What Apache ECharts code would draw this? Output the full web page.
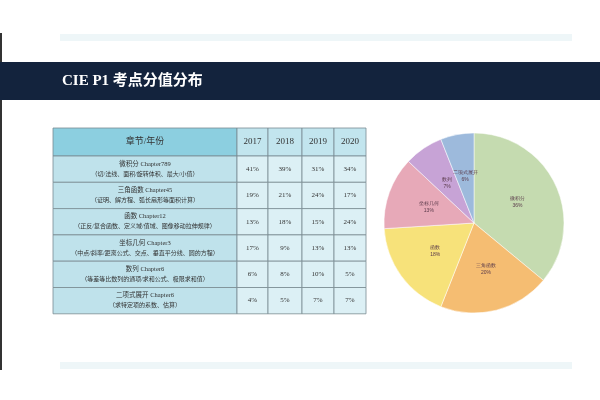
<!DOCTYPE html>
<html><head><meta charset="utf-8">
<script src="https://cdn.jsdelivr.net/npm/echarts@6/dist/echarts.min.js"></script>
<style>html,body{margin:0;padding:0;background:#fff}#main{width:600px;height:400px}</style>
</head><body><div id="main"></div>
<script>
// 表格数据
var chapters = ['微积分 Chapter789', '三角函数 Chapter45', '函数 Chapter12', '坐标几何 Chapter3', '数列 Chapter6', '二项式展开 Chapter6'];
var notes = ['（切/法线、面积/旋转体积、最大/小值）', '（证明、解方程、弧长扇形等面积计算）', '（正反/复合函数、定义域/值域、图像移动拉伸规律）',
  '（中点/斜率/距离公式、交点、垂直平分线、圆的方程）', '（等差等比数列的通项/求和公式、极限求和值）', '（求特定项的系数、估算）'];
var years = ['2017', '2018', '2019', '2020'];
var p2017 = ['41%', '19%', '13%', '17%', '6%', '4%'];
var p2018 = ['39%', '21%', '18%', '9%', '8%', '5%'];
var p2019 = ['31%', '24%', '15%', '13%', '10%', '7%'];
var p2020 = ['34%', '17%', '24%', '13%', '5%', '7%'];
// 饼图数据
var pieNames = ['微积分', '三角函数', '函数', '坐标几何', '数列', '二项式展开'];
var pieValues = [36, 20, 18, 13, 7, 6];
var pieColors = ['#c5dbb0', '#f5bd72', '#f7e27a', '#e7a9b8', '#c7a3d6', '#9dbadc'];

var serif = '"Liberation Serif", "Noto Sans CJK SC"';
var myChart = echarts.init(document.getElementById('main'));

var g = [];
g.push({type: 'rect', shape: {x: 0, y: 33, width: 2, height: 337}, style: {fill: '#333'}});
g.push({type: 'rect', shape: {x: 60, y: 34, width: 512, height: 7}, style: {fill: '#eef6f8'}});
g.push({type: 'rect', shape: {x: 0, y: 62, width: 600, height: 38}, style: {fill: '#13233d'}});
g.push({type: 'text', x: 62, y: 81, style: {text: 'CIE P1 考点分值分布', fill: '#fff', font: 'bold 15px ' + serif, verticalAlign: 'middle'}});
g.push({type: 'rect', shape: {x: 60, y: 362, width: 512, height: 7}, style: {fill: '#eef6f8'}});

var colX = [53, 237, 268, 302, 334, 366];
var rowY = [128, 156];
for (var i = 0; i < 6; i++) rowY.push(156 + (i + 1) * 26.3);
var cols = [p2017, p2018, p2019, p2020];
for (var r = 0; r < 7; r++) {
  for (var c = 0; c < 5; c++) {
    var fill = r === 0 ? (c === 0 ? '#8ccfe0' : '#c2e5ee') : (c === 0 ? '#bfe2eb' : '#dcf0f5');
    var x0 = colX[c], y0 = rowY[r], w = colX[c + 1] - x0, h = rowY[r + 1] - y0;
    g.push({type: 'rect', shape: {x: x0, y: y0, width: w, height: h}, style: {fill: fill, stroke: '#7a8c92', lineWidth: 0.8}});
    var cx = x0 + w / 2, cy = y0 + h / 2;
    if (r === 0) {
      g.push({type: 'text', x: cx, y: cy, style: {text: c === 0 ? '章节/年份' : years[c - 1], fill: '#333', font: '9px ' + serif, align: 'center', verticalAlign: 'middle'}});
    } else if (c === 0) {
      g.push({type: 'text', x: cx, y: cy - 5, style: {text: chapters[r - 1], fill: '#333', font: '6.5px ' + serif, align: 'center', verticalAlign: 'middle'}});
      g.push({type: 'text', x: cx, y: cy + 5, style: {text: notes[r - 1], fill: '#333', font: '6px ' + serif, align: 'center', verticalAlign: 'middle'}});
    } else {
      g.push({type: 'text', x: cx, y: cy, style: {text: cols[c - 1][r - 1], fill: '#333', font: '7px ' + serif, align: 'center', verticalAlign: 'middle'}});
    }
  }
}

option = {
  color: pieColors,
  graphic: g,
  series: [{
    type: 'pie',
    center: [474, 223],
    radius: 90,
    startAngle: 90,
    label: {
      position: 'inside',
      formatter: '{b}\n{c}%',
      color: '#5a3a4a',
      fontSize: 5,
      lineHeight: 7
    },
    itemStyle: {borderColor: '#fff', borderWidth: 0.5},
    data: pieNames.map(function (n, i) { return {name: n, value: pieValues[i]}; })
  }]
};
myChart.setOption(option);
</script></body></html>
